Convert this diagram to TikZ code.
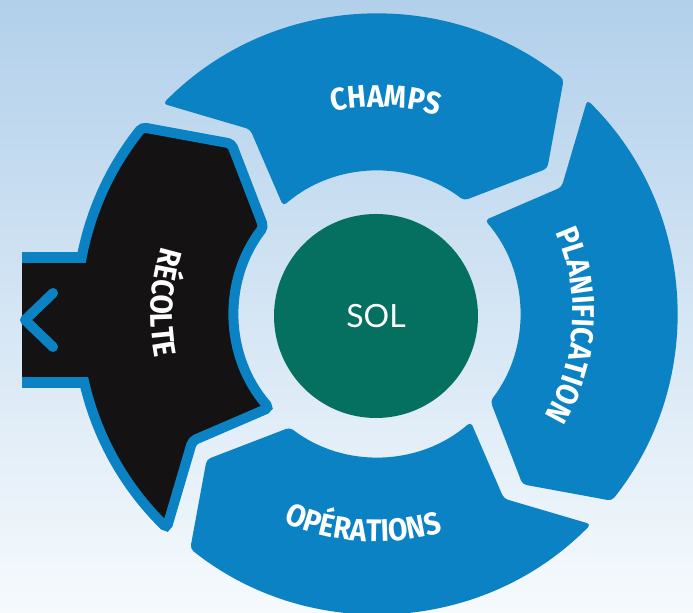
\documentclass[tikz,border=0pt]{standalone}
\usepackage{fontspec}
\setmainfont{Fira Sans}
\newfontfamily\piecefont[FakeStretch=0.9]{Fira Sans}
\newfontfamily\solfont{Lato}
\usetikzlibrary{decorations.text}

\definecolor{ringblue}{RGB}{10,130,195}
\definecolor{soilgreen}{RGB}{6,112,96}
\definecolor{harvestblack}{RGB}{20,18,18}
\definecolor{skytop}{RGB}{178,208,235}
\definecolor{skybottom}{RGB}{246,250,253}

% one ring piece, centred on angle #1: tail notch ccw, head cw
\newcommand{\piecepath}[1]{(#1+42:300) arc[start angle=#1+42, end angle=#1-42, radius=300] -- (#1-53:224) -- (#1-41:143) arc[start angle=#1-41, end angle=#1+37.5, radius=143] -- (#1+31:224) -- cycle}

\begin{document}
\begin{tikzpicture}[x=0.75pt,y=0.75pt,
    piece/.style={fill=ringblue, rounded corners=3pt},
    cwlabel/.style={decorate, decoration={text along path, text align=center,
        text={|\piecefont\bfseries\fontsize{23.5}{26}\selectfont\color{white}|#1}}}]
    \useasboundingbox (0,0) rectangle (693,613);
    
    %Shape: Background
    \shade [top color=skytop, bottom color=skybottom] (0,0) rectangle (693,613) ;
    
    \begin{scope}[shift={(377,299)}]
    %Shape: Recolte stub border
    \fill [ringblue] (-355,-74) rectangle (-247,62) ;
    %Shape: Recolte piece
    \filldraw [fill=harvestblack, draw=ringblue, line width=7.5pt, rounded corners=3pt] \piecepath{183.5} ;
    %Shape: Recolte stub
    \fill [harvestblack] (-355,-63) rectangle (-247,51) ;
    %Shape: Chevron
    \draw [ringblue, line width=7.5pt, line cap=round, line join=round] (-324,21) -- (-352,-6) -- (-324,-33) ;
    
    %Shape: Champs piece
    \path [piece] \piecepath{93.5} ;
    %Shape: Planification piece
    \path [piece] \piecepath{3.5} ;
    %Shape: Operations piece
    \path [piece] \piecepath{-86.5} ;
    
    %Shape: Circle
    \fill [soilgreen] (-1,-2) circle [radius=102] ;
    
    % Text Node
    \draw (-1,-2) node [text=white, font=\solfont\fontsize{24}{27}\selectfont] (sol) {SOL};
    % Text Paths
    \path [cwlabel=CHAMPS] (127.6:207) arc[start angle=127.6, end angle=47.6, radius=207] ;
    \path [cwlabel=PLANIFICATION] (46.7:196) arc[start angle=46.7, end angle=-53.3, radius=196] ;
    \path [cwlabel=OPÉRATIONS] (-138.7:228) arc[start angle=-138.7, end angle=-48.7, radius=228] ;
    \path [cwlabel=RÉCOLTE] (142:226) arc[start angle=142, end angle=212, radius=226] ;
    \end{scope}
    
\end{tikzpicture}
\end{document}
